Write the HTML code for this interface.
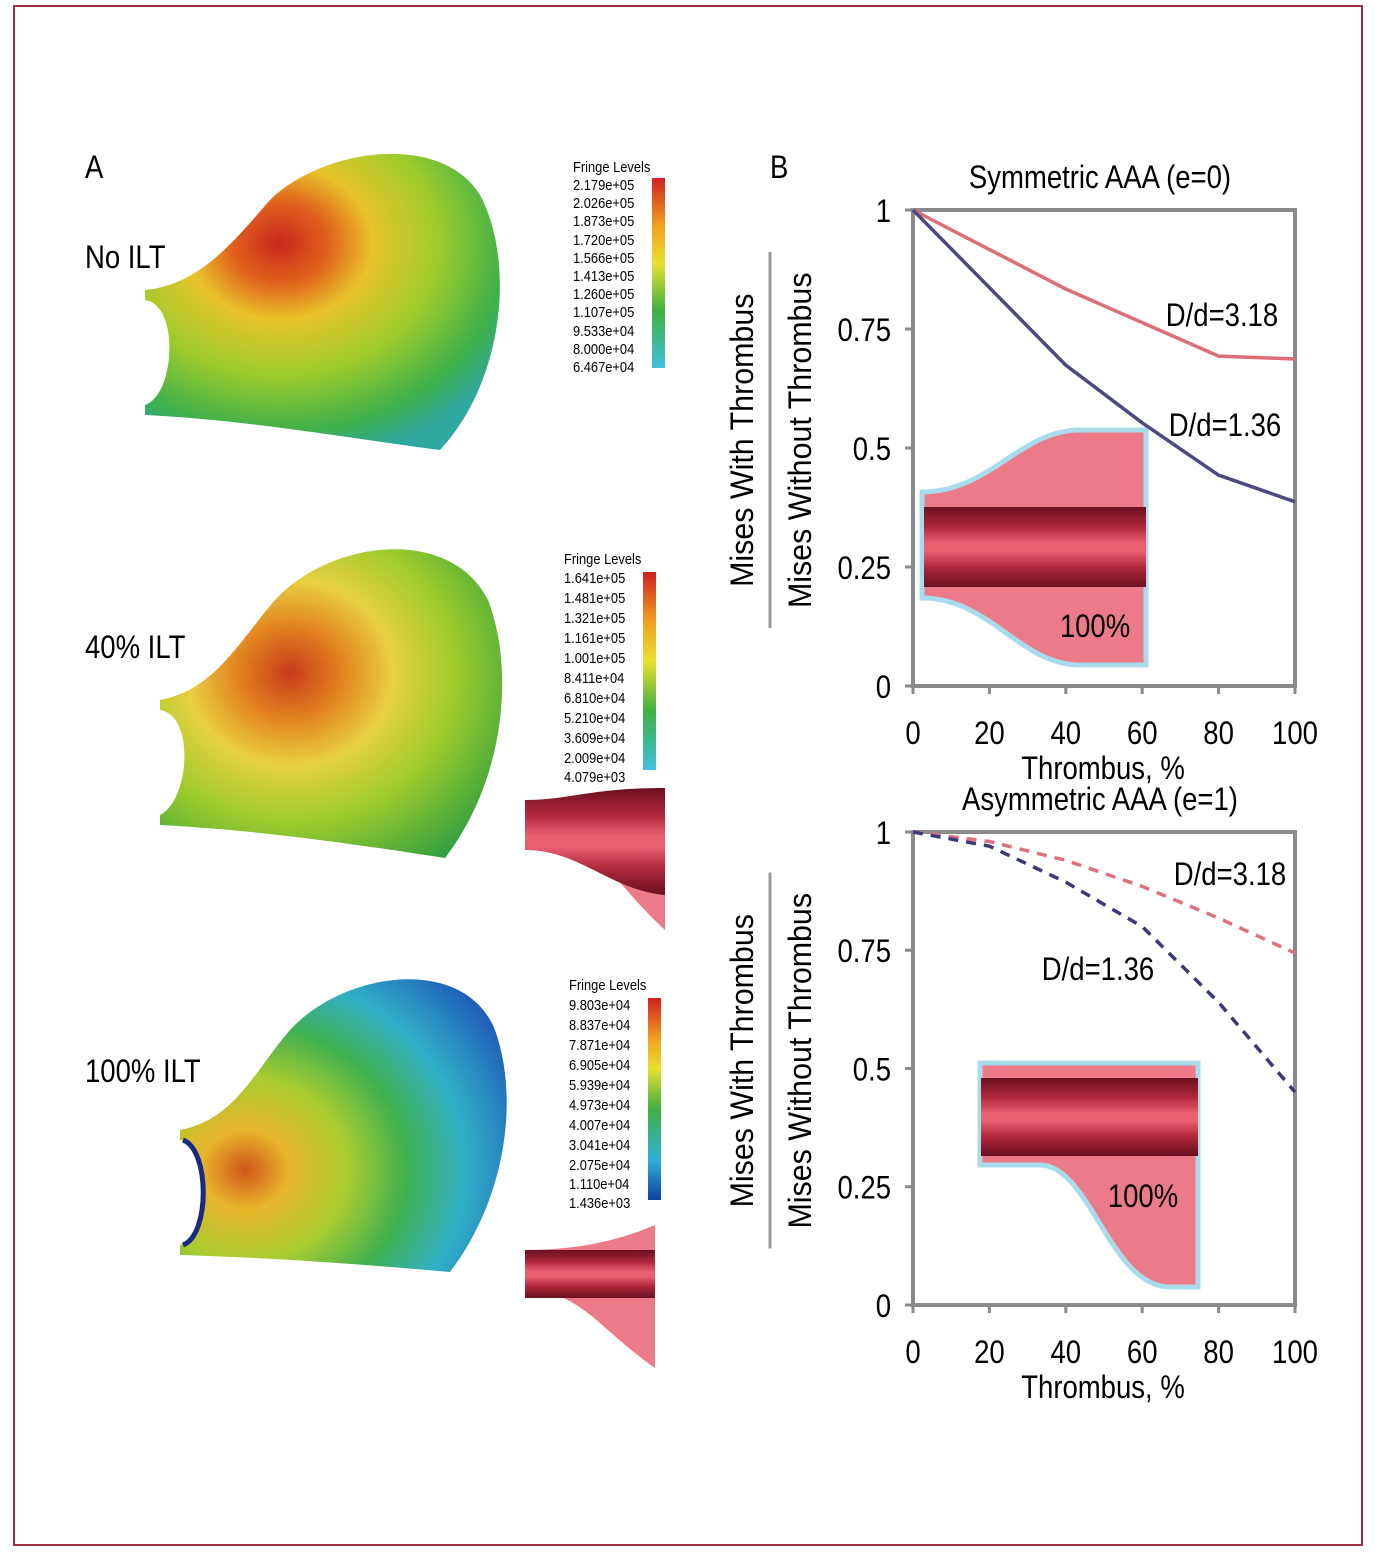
<!DOCTYPE html>
<html><head><meta charset="utf-8">
<style>
html,body{margin:0;padding:0;background:#fff;}
svg{display:block;font-family:"Liberation Sans Narrow","Liberation Sans",sans-serif;}
svg text{transform-box:fill-box;transform-origin:left center;transform:scaleX(0.86);}
svg text.m{transform-origin:center;}
svg text.e{transform-origin:right center;}
svg text.rot{transform-origin:center;transform:rotate(-90deg) scaleX(0.95);}
</style></head>
<body>
<svg id="fig" width="1375" height="1562" viewBox="0 0 1375 1562">
<defs>
<radialGradient id="g1" cx="0.38" cy="0.3" r="0.75">
<stop offset="0" stop-color="#c8281c"/><stop offset="0.18" stop-color="#e0601c"/><stop offset="0.35" stop-color="#e8c42a"/><stop offset="0.6" stop-color="#9ccb2c"/><stop offset="0.85" stop-color="#3fb04a"/><stop offset="1" stop-color="#2fa8a0"/>
</radialGradient>
<radialGradient id="g2" cx="0.38" cy="0.4" r="0.75">
<stop offset="0" stop-color="#c83a1c"/><stop offset="0.2" stop-color="#e2821e"/><stop offset="0.4" stop-color="#e8d040"/><stop offset="0.65" stop-color="#9ccb2c"/><stop offset="1" stop-color="#2f9e40"/>
</radialGradient>
<radialGradient id="g3" cx="0.2" cy="0.65" r="0.9">
<stop offset="0" stop-color="#d0561c"/><stop offset="0.15" stop-color="#e8b42a"/><stop offset="0.35" stop-color="#a8cc30"/><stop offset="0.55" stop-color="#3fb050"/><stop offset="0.75" stop-color="#30b0c8"/><stop offset="1" stop-color="#2060b8"/>
</radialGradient>
<linearGradient id="jet" x1="0" y1="0" x2="0" y2="1">
<stop offset="0" stop-color="#d02020"/><stop offset="0.25" stop-color="#f0a020"/><stop offset="0.45" stop-color="#e8e030"/><stop offset="0.7" stop-color="#40b040"/><stop offset="1" stop-color="#40c0e0"/>
</linearGradient>
<linearGradient id="jet3" x1="0" y1="0" x2="0" y2="1">
<stop offset="0" stop-color="#d02020"/><stop offset="0.2" stop-color="#f0a020"/><stop offset="0.35" stop-color="#e8e030"/><stop offset="0.55" stop-color="#40b040"/><stop offset="0.8" stop-color="#30b0d8"/><stop offset="1" stop-color="#1040a0"/>
</linearGradient>
<linearGradient id="tube" x1="0" y1="0" x2="0" y2="1">
<stop offset="0" stop-color="#6a1020"/><stop offset="0.25" stop-color="#b0283a"/><stop offset="0.45" stop-color="#e86070"/><stop offset="0.55" stop-color="#e86070"/><stop offset="0.75" stop-color="#b0283a"/><stop offset="1" stop-color="#6a1020"/>
</linearGradient>
</defs>
<rect x="14" y="6" width="1348" height="1539" fill="#fff" stroke="#9a3040" stroke-width="2"/>

<text x="85" y="178" font-size="32">A</text>
<text x="770" y="178" font-size="32">B</text>

<g>
<path d="M145,290 C200,285 235,240 270,200 C320,150 440,130 480,195 C515,260 505,380 440,450 C360,440 250,420 145,415 L145,405 C175,395 180,305 145,300 Z" fill="url(#g1)"/>
<text x="85" y="268" font-size="32">No ILT</text>
</g>
<g>
<path d="M160,700 C215,690 240,640 275,600 C330,540 450,525 488,600 C515,670 505,780 445,858 C360,845 260,830 160,825 L160,815 C190,800 195,715 160,710 Z" fill="url(#g2)"/>
<text x="85" y="658" font-size="32">40% ILT</text>
</g>
<g>
<path d="M180,1130 C235,1120 255,1070 290,1030 C345,970 465,955 495,1030 C520,1100 505,1200 450,1272 C370,1265 280,1258 180,1255 L180,1245 C210,1230 215,1145 180,1140 Z" fill="url(#g3)"/>
<path d="M183,1140 C210,1150 210,1235 183,1245" fill="none" stroke="#1a2a80" stroke-width="5"/>
<text x="85" y="1082" font-size="32">100% ILT</text>
</g>

<g font-size="15">
<text x="573" y="172">Fringe Levels</text>
<rect x="652" y="178" width="13" height="190" fill="url(#jet)"/>
<text x="573" y="190">2.179e+05</text><text x="573" y="208">2.026e+05</text><text x="573" y="226">1.873e+05</text><text x="573" y="245">1.720e+05</text><text x="573" y="263">1.566e+05</text><text x="573" y="281">1.413e+05</text><text x="573" y="299">1.260e+05</text><text x="573" y="317">1.107e+05</text><text x="573" y="336">9.533e+04</text><text x="573" y="354">8.000e+04</text><text x="573" y="372">6.467e+04</text>
</g>
<g font-size="15">
<text x="564" y="564">Fringe Levels</text>
<rect x="643" y="572" width="13" height="198" fill="url(#jet)"/>
<text x="564" y="583">1.641e+05</text><text x="564" y="603">1.481e+05</text><text x="564" y="623">1.321e+05</text><text x="564" y="643">1.161e+05</text><text x="564" y="663">1.001e+05</text><text x="564" y="683">8.411e+04</text><text x="564" y="703">6.810e+04</text><text x="564" y="723">5.210e+04</text><text x="564" y="743">3.609e+04</text><text x="564" y="763">2.009e+04</text><text x="564" y="782">4.079e+03</text>
</g>
<g font-size="15">
<text x="569" y="990">Fringe Levels</text>
<rect x="648" y="998" width="13" height="202" fill="url(#jet3)"/>
<text x="569" y="1010">9.803e+04</text><text x="569" y="1030">8.837e+04</text><text x="569" y="1050">7.871e+04</text><text x="569" y="1070">6.905e+04</text><text x="569" y="1090">5.939e+04</text><text x="569" y="1110">4.973e+04</text><text x="569" y="1130">4.007e+04</text><text x="569" y="1150">3.041e+04</text><text x="569" y="1170">2.075e+04</text><text x="569" y="1189">1.110e+04</text><text x="569" y="1208">1.436e+03</text>
</g>

<g>
<path d="M525,812 C580,812 600,870 665,930 L665,850 L525,850 Z" fill="#ec7a88"/>
<path d="M525,800 C570,800 590,788 665,788 L665,895 C610,890 580,850 525,850 Z" fill="url(#tube)"/>
</g>
<g>
<path d="M525,1290 C580,1290 600,1330 655,1368 L655,1225 C620,1240 580,1250 525,1250 Z" fill="#ec7a88"/>
<rect x="525" y="1250" width="130" height="48" fill="url(#tube)"/>
</g>

<g id="chart1"></g>
<g id="chart2"></g>
</svg>
<script>
const xTicks = [0, 20, 40, 60, 80, 100];
const yTicks = [0, 0.25, 0.5, 0.75, 1];
const yTickLabels = ['0', '0.25', '0.5', '0.75', '1'];
const xPct = [0, 40, 80, 100];
const symHigh = [1, 0.834, 0.693, 0.687];
const xPctLow = [0, 40, 60, 80, 100];
const symLow = [1, 0.674, 0.553, 0.443, 0.387];
const xAsym = [0, 20, 40, 60, 80, 100];
const asymHigh = [1, 0.98, 0.94, 0.885, 0.818, 0.744];
const asymLow = [1, 0.97, 0.894, 0.80, 0.64, 0.45];

const NS = 'http://www.w3.org/2000/svg';
function mk(parent, tag, attrs, text) {
  const e = document.createElementNS(NS, tag);
  for (const k in attrs) e.setAttribute(k, attrs[k]);
  if (text !== undefined) e.textContent = text;
  parent.appendChild(e);
  return e;
}
function drawChart(id, top, bottom, title, series, inset) {
  const g = document.getElementById(id);
  const L = 913, R = 1295;
  const xs = v => L + (v / 100) * (R - L);
  const ys = v => bottom - v * (bottom - top);
  inset(g);
  const frame = mk(g, 'rect', {x: L, y: top, width: R - L, height: bottom - top, fill: 'none', stroke: '#8a8a8a', 'stroke-width': 4});
  
  
  const t = mk(g, 'text', {x: 1100, y: top - 22, 'font-size': 32, 'text-anchor': 'middle', class: 'm'}, title);
  
  
  yTicks.forEach((v, i) => {
    mk(g, 'line', {x1: L - 8, x2: L, y1: ys(v), y2: ys(v), stroke: '#8a8a8a', 'stroke-width': 3});
    const tl = mk(g, 'text', {x: 891, y: ys(v) + 12, 'font-size': 32, 'text-anchor': 'end', class: 'e'}, yTickLabels[i]);
    
    
  });
  xTicks.forEach(v => {
    mk(g, 'line', {x1: xs(v), x2: xs(v), y1: bottom, y2: bottom + 8, stroke: '#8a8a8a', 'stroke-width': 3});
    const tl = mk(g, 'text', {x: xs(v), y: bottom + 58, 'font-size': 32, 'text-anchor': 'middle', class: 'm'}, String(v));
    
    
  });
  const xt = mk(g, 'text', {x: 1103, y: bottom + 93, 'font-size': 32, 'text-anchor': 'middle', class: 'm'}, 'Thrombus, %');
  
  
  const cy = (top + bottom) / 2 - 8;
  const yt1 = mk(g, 'text', {x: 742, y: cy + 11, 'font-size': 32, 'text-anchor': 'middle', class: 'rot'}, 'Mises With Thrombus');
  
  
  mk(g, 'line', {x1: 770, x2: 770, y1: cy - 188, y2: cy + 188, stroke: '#999', 'stroke-width': 3});
  const yt2 = mk(g, 'text', {x: 800, y: cy + 11, 'font-size': 32, 'text-anchor': 'middle', class: 'rot'}, 'Mises Without Thrombus');
  
  
  series.forEach(s => {
    const d = s.x.map((xv, i) => (i ? 'L' : 'M') + xs(xv) + ',' + ys(s.y[i])).join(' ');
    const p = mk(g, 'path', {d: d, fill: 'none', stroke: s.color, 'stroke-width': 3.5, 'stroke-dasharray': s.dash || 'none'});
    
    
    const lb = mk(g, 'text', {x: s.lx, y: s.ly, 'font-size': 32, 'text-anchor': 'middle', class: 'm'}, s.label);
    
    
  });
}
function inset1(g) {
  mk(g, 'path', {d: 'M922,492 C990,492 1020,430 1080,430 L1146,430 L1146,665 L1080,665 C1020,665 990,598 922,598 Z', fill: '#ec7a88', stroke: '#a8dcec', 'stroke-width': 5});
  mk(g, 'rect', {x: 924, y: 507, width: 222, height: 80, fill: 'url(#tube)'});
  mk(g, 'text', {x: 1095, y: 637, 'font-size': 32, 'text-anchor': 'middle', class: 'm'}, '100%');
}
function inset2(g) {
  mk(g, 'path', {d: 'M980,1063 L1198,1063 L1198,1287 L1170,1287 C1110,1287 1090,1165 1040,1165 L980,1165 Z', fill: '#ec7a88', stroke: '#a8dcec', 'stroke-width': 5});
  mk(g, 'rect', {x: 981, y: 1078, width: 217, height: 78, fill: 'url(#tube)'});
  mk(g, 'text', {x: 1143, y: 1207, 'font-size': 32, 'text-anchor': 'middle', class: 'm'}, '100%');
}
drawChart('chart1', 210, 686, 'Symmetric AAA (e=0)', [
  {x: xPct, y: symHigh, color: '#e06c78', name: 'line-sym-dd318', label: 'D/d=3.18', lx: 1222, ly: 326},
  {x: xPctLow, y: symLow, color: '#4a4a80', name: 'line-sym-dd136', label: 'D/d=1.36', lx: 1225, ly: 436}
], inset1);
drawChart('chart2', 832, 1305, 'Asymmetric AAA (e=1)', [
  {x: xAsym, y: asymHigh, color: '#e07080', dash: '10,8', name: 'line-asym-dd318', label: 'D/d=3.18', lx: 1230, ly: 885},
  {x: xAsym, y: asymLow, color: '#3a3a78', dash: '10,8', name: 'line-asym-dd136', label: 'D/d=1.36', lx: 1098, ly: 980}
], inset2);
</script>
</body></html>
